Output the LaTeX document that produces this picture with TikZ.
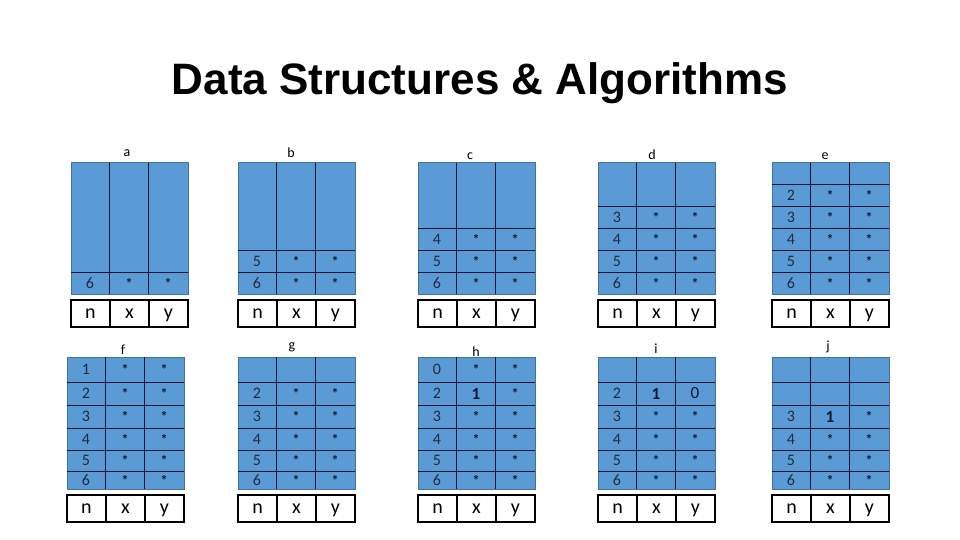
\documentclass[tikz,border=0pt]{standalone}
\usepackage{fontspec}
\setmainfont{Carlito}
\newfontfamily\titlefont{Liberation Sans}
\usepackage{xcolor}
\usepackage{tikz}
\usetikzlibrary{positioning}

\definecolor{cellblue}{HTML}{5B9BD5}
\definecolor{cellrim}{HTML}{41719C}
\definecolor{gridink}{HTML}{0E1633}
\definecolor{digitink}{HTML}{1F2A44}

\newcommand{\bigdigit}[1]{{\fontsize{17}{18}\selectfont #1}}

% one blue table: name, left, top, bottom, row lines, rows (y/n/x/y)
\newcommand{\tablepanel}[6]{%
  \node[panel, minimum height={(#4-#3)*1pt}, anchor=north west] (#1) at (#2,#3) {};
  \draw[gridline] ([xshift=38pt]#1.north west) -- ([xshift=38pt]#1.south west);
  \draw[gridline] ([xshift=77pt]#1.north west) -- ([xshift=77pt]#1.south west);
  \foreach \yl in {#5} \draw[gridline] (#2,\yl) -- (#2+117,\yl);
  \foreach \yc/\cn/\cx/\cy [count=\k] in {#6} {
    \node[numcell] (#1n\k) at (#2+19,\yc) {\cn};
    \node[starcell] (#1x\k) at (#2+58,\yc) {\cx};
    \node[starcell] (#1y\k) at (#2+97,\yc) {\cy};
  }
  \node[headcell, anchor=north west] (#1hn) at (#2,#4+6) {n};
  \node[headcell, right=0pt of #1hn] (#1hx) {x};
  \node[headcell, right=0pt of #1hx] (#1hy) {y};
}

\begin{document}
\begin{tikzpicture}[
      x=1pt, y=-1pt,
      panel/.style={draw=cellrim, fill=cellblue, line width=1pt, minimum width=117pt, inner sep=0pt, outer sep=0pt},
      gridline/.style={draw=gridink, line width=0.9pt},
      numcell/.style={text=digitink, font=\fontsize{16}{18}\selectfont, inner sep=0pt},
      starcell/.style={text=gridink, font=\bfseries\fontsize{14}{16}\selectfont, inner sep=0pt},
      headcell/.style={draw, line width=1.7pt, fill=white, minimum width=39pt, minimum height=27pt, inner sep=0pt, outer sep=0pt, text height=13pt, text depth=4pt, font=\fontsize{20}{22}\selectfont},
      tag/.style={font=\fontsize{14}{16}\selectfont, inner sep=0pt},
    ]
      \useasboundingbox (0,0) rectangle (960,540);
      \node[font=\titlefont\bfseries\fontsize{44}{48}\selectfont, anchor=base] (title) at (480,95) {Data Structures \& Algorithms};

      % top row
      \node[tag] (la) at (127,153) {a};
      \node[tag] (lb) at (291,153) {b};
      \node[tag] (lc) at (470,156) {c};
      \node[tag] (ld) at (652,155) {d};
      \node[tag] (le) at (825,156) {e};
      \tablepanel{pa}{71}{163}{294}{272}{283/6/*/*}
      \tablepanel{pb}{238}{163}{294}{250,272}{261/5/*/*, 283/6/*/*}
      \tablepanel{pc}{418}{163}{294}{228,250,272}{239/4/*/*, 261/5/*/*, 283/6/*/*}
      \tablepanel{pd}{598}{163}{294}{206,228,250,272}{217/3/*/*, 239/4/*/*, 261/5/*/*, 283/6/*/*}
      \tablepanel{pe}{772}{163}{294}{184,206,228,250,272}{195/2/*/*, 217/3/*/*, 239/4/*/*, 261/5/*/*, 283/6/*/*}

      % bottom row
      \node[tag] (lf) at (123,350) {f};
      \node[tag] (lg) at (292,347) {g};
      \node[tag] (lh) at (476,352) {h};
      \node[tag] (li) at (656,349) {i};
      \node[tag] (lj) at (828,347) {j};
      \tablepanel{pf}{67}{357}{489}{382,405,428,450,471}{369.5/1/*/*, 393.5/2/*/*, 416.5/3/*/*, 439/4/*/*, 460.5/5/*/*, 480/6/*/*}
      \tablepanel{pg}{238}{357}{489}{382,405,428,450,471}{393.5/2/*/*, 416.5/3/*/*, 439/4/*/*, 460.5/5/*/*, 480/6/*/*}
      \tablepanel{ph}{418}{357}{489}{382,405,428,450,471}{369.5/0/*/*, 393.5/2/{\bfseries\bigdigit{1}}/*, 416.5/3/*/*, 439/4/*/*, 460.5/5/*/*, 480/6/*/*}
      \tablepanel{pi}{598}{357}{489}{382,405,428,450,471}{393.5/2/{\bfseries\bigdigit{1}}/{\mdseries\bigdigit{0}}, 416.5/3/*/*, 439/4/*/*, 460.5/5/*/*, 480/6/*/*}
      \tablepanel{pj}{772}{357}{489}{382,405,428,450,471}{416.5/3/{\bfseries\bigdigit{1}}/*, 439/4/*/*, 460.5/5/*/*, 480/6/*/*}
    \end{tikzpicture}
\end{document}
